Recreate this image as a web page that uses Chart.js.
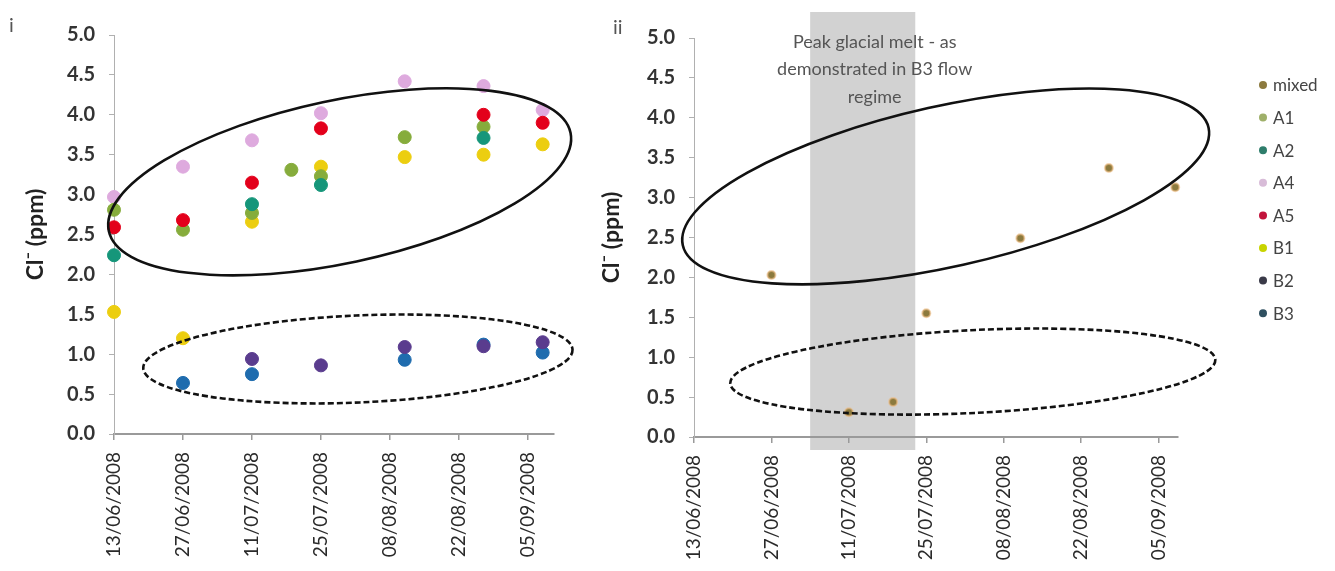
<!DOCTYPE html>
<html>
<head>
<meta charset="utf-8">
<script src="https://cdn.jsdelivr.net/npm/chart.js@4.4.0/dist/chart.umd.min.js"></script>
<style>
  html, body { margin: 0; padding: 0; background: #fff; }
  #wrap { position: relative; width: 1335px; height: 571px; }
  .panel { position: absolute; top: 0; }
  #p1 { left: 0; }
  #p2 { left: 590px; }
</style>
</head>
<body>
<div id="wrap">
  <div class="panel" id="p1"><canvas id="chart1" width="590" height="571"></canvas></div>
  <div class="panel" id="p2"><canvas id="chart2" width="745" height="571"></canvas></div>
</div>
<script>
// sampling days, 2008 field season
const sampleDates = ['13/06/2008', '27/06/2008', '11/07/2008', '19/07/2008', '25/07/2008', '11/08/2008', '27/08/2008', '08/09/2008']
const tickDates = ['13/06/2008', '27/06/2008', '11/07/2008', '25/07/2008', '08/08/2008', '22/08/2008', '05/09/2008']

// Cl- in ppm, one value per sampling day (null = no sample)
const a1 = [2.81, 2.56, 2.77, 3.31, 3.23, 3.72, 3.85, null]
const a2 = [2.24, null, 2.88, null, 3.12, null, 3.71, null]
const a4 = [2.97, 3.35, 3.68, null, 4.02, 4.42, 4.36, 4.06]
const a5 = [2.59, 2.68, 3.15, null, 3.83, null, 4.00, 3.90]
const b1 = [1.53, 1.20, 2.66, null, 3.35, 3.47, 3.50, 3.63]
const b2 = [null, null, 0.94, null, 0.86, 1.09, 1.10, 1.15]
const b3 = [null, 0.64, 0.75, null, null, 0.93, 1.12, 1.02]
const mixed = [null, 2.03, 0.31, 0.44, 1.55, 2.49, 3.37, 3.13]

// peak melt window (B3 flow regime)
const meltStart = '04/07/2008'
const meltEnd = '23/07/2008'

const FONT = 'Lato, "Open Sans", sans-serif'

function dayOf(s) {
    let p = s.split('/')
    let t = Date.UTC(+p[2], +p[1] - 1, +p[0])
    let p0 = sampleDates[0].split('/')
    return Math.round((t - Date.UTC(+p0[2], +p0[1] - 1, +p0[0])) / 86400000)
}

function label(day) {
    let d = new Date(Date.UTC(2008, 5, 13) + day * 86400000)
    let dd = String(d.getUTCDate()).padStart(2, '0')
    let mm = String(d.getUTCMonth() + 1).padStart(2, '0')
    return `${dd}/${mm}/${d.getUTCFullYear()}`
}

function toPoints(values) {
    return values.map((v, i) => v == null ? null : {x: dayOf(sampleDates[i]), y: v}).filter(p => p)
}

// hand drawn rings around the groups, given in data units
const rings = {
    id: 'rings',
    afterDatasetsDraw(chart, args, opts) {
        const {ctx, scales: {x, y}} = chart
        const pxDay = Math.abs(x.getPixelForValue(1) - x.getPixelForValue(0))
        const pxPpm = Math.abs(y.getPixelForValue(1) - y.getPixelForValue(0))
        ctx.save()
        ctx.strokeStyle = '#111'
        ctx.lineWidth = 2.6
        opts.items.forEach(e => {
            ctx.setLineDash(e.dashed ? [6, 3] : [])
            ctx.beginPath()
            ctx.ellipse(x.getPixelForValue(e.cx), y.getPixelForValue(e.cy), e.rx * pxDay, e.ry * pxPpm, e.rot * Math.PI / 180, 0, Math.PI * 2)
            ctx.stroke()
        })
        ctx.restore()
    }
}

// panel letter in the corner
const panelTag = {
    id: 'panelTag',
    afterDraw(chart, args, opts) {
        const ctx = chart.ctx
        ctx.save()
        ctx.fillStyle = '#555'
        ctx.font = '20px ' + FONT
        ctx.textBaseline = 'top'
        ctx.fillText(opts.text, opts.x, opts.y)
        ctx.restore()
    }
}

// grey band behind everything
const meltBand = {
    id: 'meltBand',
    beforeDraw(chart, args, opts) {
        const {ctx, chartArea, scales: {x}} = chart
        let x1 = x.getPixelForValue(dayOf(meltStart))
        let x2 = x.getPixelForValue(dayOf(meltEnd))
        ctx.save()
        ctx.fillStyle = '#d2d2d2'
        ctx.fillRect(x1, chartArea.top - 26, x2 - x1, chartArea.bottom - chartArea.top + 39)
        ctx.restore()
    },
    afterDraw(chart, args, opts) {
        const {ctx, scales: {x, y}} = chart
        let cx = (x.getPixelForValue(dayOf(meltStart)) + x.getPixelForValue(dayOf(meltEnd))) / 2 + 12
        let top = y.getPixelForValue(4.95)
        ctx.save()
        ctx.fillStyle = '#555'
        ctx.font = '18px ' + FONT
        ctx.textAlign = 'center'
        ctx.textBaseline = 'middle'
        opts.lines.forEach((l, i) => ctx.fillText(l, cx, top + i * 27.5))
        ctx.restore()
    }
}

// legend list on the right of panel ii
const sideLegend = {
    id: 'sideLegend',
    afterDraw(chart, args, opts) {
        const ctx = chart.ctx
        ctx.save()
        ctx.font = '17px ' + FONT
        ctx.textBaseline = 'middle'
        chart.data.datasets.forEach((ds, i) => {
            let yy = opts.y + i * 32.6
            ctx.fillStyle = ds.backgroundColor
            ctx.beginPath()
            ctx.arc(opts.x, yy, 4, 0, Math.PI * 2)
            ctx.fill()
            ctx.fillStyle = '#444'
            ctx.fillText(ds.label, opts.x + 10, yy + 1)
        })
        ctx.restore()
    }
}

function scalesFor(xMax, yWidth, xHeight, titlePad) {
    return {
        x: {
            type: 'linear',
            min: 0,
            max: xMax,
            afterBuildTicks: s => { s.ticks = tickDates.map(d => ({value: dayOf(d)})) },
            afterFit: s => { s.height = xHeight },
            grid: {drawOnChartArea: false, color: '#9a9a9a', tickLength: 6, lineWidth: 1.5},
            border: {color: '#9a9a9a', width: 2},
            ticks: {
                autoSkip: false, maxRotation: 90, minRotation: 90, padding: 12,
                color: '#2a2a2a', font: {family: FONT, size: 19},
                callback: v => label(v)
            }
        },
        y: {
            min: 0,
            max: 5,
            afterFit: s => { s.width = yWidth },
            grid: {drawOnChartArea: false, color: '#b0b0b0', tickLength: 5},
            border: {color: '#b0b0b0', width: 1},
            ticks: {
                stepSize: 0.5, padding: 14,
                color: '#333', font: {family: FONT, size: 20, weight: 'bold'},
                callback: v => v.toFixed(1)
            },
            title: {
                display: true, text: 'Cl⁻ (ppm)', color: '#222',
                font: {family: FONT, size: 23, weight: 'bold'},
                padding: {top: titlePad, bottom: 0}
            }
        }
    }
}

function series(label, values, color, radius) {
    return {label: label, data: toPoints(values), backgroundColor: color, borderColor: color, pointRadius: radius, pointHoverRadius: radius, clip: false}
}

new Chart(document.getElementById('chart1'), {
    type: 'scatter',
    data: {
        datasets: [
            series('B2', b2, '#5a3c8e', 6.5),
            series('B3', b3, '#1f6cae', 6.5),
            series('A5', a5, '#e3001b', 6.5),
            series('A2', a2, '#16967a', 6.5),
            series('A1', a1, '#86ac3c', 6.5),
            series('B1', b1, '#ecce10', 6.5),
            series('A4', a4, '#deaade', 6.5)
        ]
    },
    options: {
        responsive: false,
        animation: false,
        layout: {padding: {top: 35, right: 36, left: 0, bottom: 0}},
        scales: scalesFor(89.3, 114, 137, 22),
        plugins: {
            legend: {display: false},
            tooltip: {enabled: false},
            rings: {items: [
                {cx: 45.8, cy: 3.16, rx: 47.9, ry: 1.02, rot: -12},
                {cx: 49.5, cy: 0.94, rx: 43.6, ry: 0.545, rot: -2.5, dashed: true}
            ]},
            panelTag: {text: 'i', x: 9, y: 16}
        }
    },
    plugins: [rings, panelTag]
})

new Chart(document.getElementById('chart2'), {
    type: 'scatter',
    data: {
        datasets: [
            {...series('mixed', mixed, '#8c7a3e', 4), borderColor: 'rgba(236,186,130,0.6)', borderWidth: 2},
            series('A1', [], '#9fb06a', 4),
            series('A2', [], '#2e7d6b', 4),
            series('A4', [], '#d8bcd8', 4),
            series('A5', [], '#c2143c', 4),
            series('B1', [], '#c8d400', 4),
            series('B2', [], '#3a3a48', 4),
            series('B3', [], '#2f5060', 4)
        ]
    },
    options: {
        responsive: false,
        animation: false,
        layout: {padding: {top: 38, right: 745 - 588, left: 0, bottom: 0}},
        scales: scalesFor(87.5, 104, 134, 8),
        plugins: {
            legend: {display: false},
            tooltip: {enabled: false},
            rings: {items: [
                {cx: 45.5, cy: 3.14, rx: 48.7, ry: 1.006, rot: -12.6},
                {cx: 50.4, cy: 0.82, rx: 43.9, ry: 0.519, rot: -2.8, dashed: true}
            ]},
            meltBand: {lines: ['Peak glacial melt - as', 'demonstrated in B3 flow', 'regime']},
            sideLegend: {x: 673, y: 85},
            panelTag: {text: 'ii', x: 23, y: 18}
        }
    },
    plugins: [meltBand, rings, sideLegend, panelTag]
})
</script>
</body>
</html>
